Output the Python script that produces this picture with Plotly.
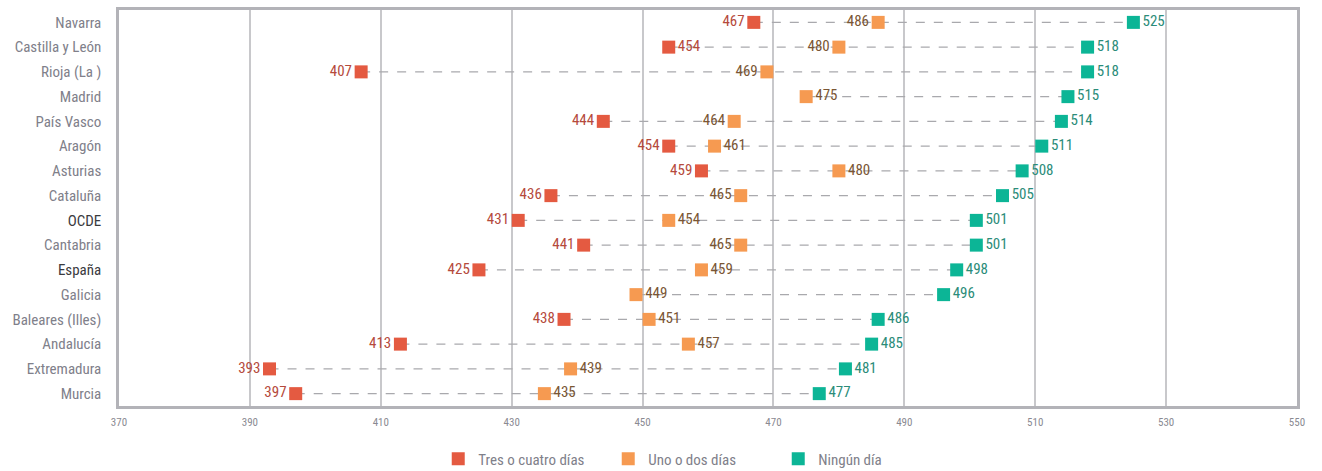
import plotly.graph_objects as go

categories = ["Navarra", "Castilla y León", "Rioja (La )", "Madrid", "País Vasco", "Aragón",
              "Asturias", "Cataluña", "OCDE", "Cantabria", "España", "Galicia",
              "Baleares (Illes)", "Andalucía", "Extremadura", "Murcia"]
tres_cuatro = [467, 454, 407, None, 444, 454, 459, 436, 431, 441, 425, None, 438, 413, 393, 397]
uno_dos = [486, 480, 469, 475, 464, 461, 480, 465, 454, 465, 459, 449, 451, 457, 439, 435]
ningun = [525, 518, 518, 515, 514, 511, 508, 505, 501, 501, 498, 496, 486, 485, 481, 477]
series_names = ["Tres o cuatro días", "Uno o dos días", "Ningún día"]
x_ticks = [370, 390, 410, 430, 450, 470, 490, 510, 530, 550]
highlight = ["OCDE", "España"]

# label placement (style only)
red_side = ["middle left", "middle right"] + ["middle left"] * 14
orange_side = ["middle left", "middle left", "middle left", "middle right", "middle left",
               "middle right", "middle right", "middle left", "middle right", "middle left",
               "middle right", "middle right", "middle right", "middle right", "middle right",
               "middle right"]

FONT = "Roboto Condensed, Roboto, sans-serif"
marker_colors = ["#e45a41", "#f69a51", "#0cb596"]
label_colors = ["#b54a3c", "#7a5634", "#2b8c79"]

fig = go.Figure()

# dashed connectors
lx, ly = [], []
for c, a, b, g in zip(categories, tres_cuatro, uno_dos, ningun):
    vals = [v for v in (a, b, g) if v is not None]
    lx += [min(vals), max(vals), None]
    ly += [c, c, None]
fig.add_trace(go.Scatter(x=lx, y=ly, mode="lines", showlegend=False, hoverinfo="skip",
                         line=dict(color="#a9a9ad", width=1.2, dash="dash")))

series = [tres_cuatro, uno_dos, ningun]
sides = [red_side, orange_side, ["middle right"] * len(categories)]
for name, vals, mc, lc, side in zip(series_names, series, marker_colors, label_colors, sides):
    fig.add_trace(go.Scatter(
        x=vals, y=categories, mode="markers+text", name=name,
        text=[("" if v is None else str(v)) for v in vals],
        textposition=side,
        textfont=dict(family=FONT, size=15, color=lc),
        marker=dict(symbol="square", size=13, color=mc),
        cliponaxis=False,
    ))

ticktext = [(f"<span style='color:#3a3a3e'>{c}</span>" if c in highlight else c) for c in categories]

fig.update_layout(
    width=1322, height=471,
    margin=dict(l=119, r=25, t=10, b=65, autoexpand=False),
    plot_bgcolor="white", paper_bgcolor="white",
    font=dict(family=FONT, size=15, color="#80808a"),
    legend=dict(orientation="h", x=0.271, xanchor="left", y=-0.134, yanchor="middle",
                font=dict(family=FONT, size=15, color="#80808a"), itemwidth=30,
                entrywidth=125, entrywidthmode="pixels", traceorder="normal"),
    xaxis=dict(range=[370, 550], tickvals=x_ticks, showgrid=True, gridcolor="#c8c8cb",
               gridwidth=1.5, showline=True, mirror=True, linecolor="#b3b3b8", linewidth=2.5,
               zeroline=False, ticks="", ticklabelstandoff=4,
               tickfont=dict(family=FONT, size=11, color="#8a8a92")),
    yaxis=dict(type="category", categoryorder="array", categoryarray=categories,
               range=[15.5, -0.5], tickvals=categories, ticktext=ticktext,
               showgrid=False, showline=True, mirror=True, linecolor="#b3b3b8", linewidth=2.5,
               ticks="", ticklabelstandoff=12,
               tickfont=dict(family=FONT, size=15, color="#80808a")),
)

fig.write_html("out.html", config={"displayModeBar": False},
               post_script="document.body.style.margin='0';")
